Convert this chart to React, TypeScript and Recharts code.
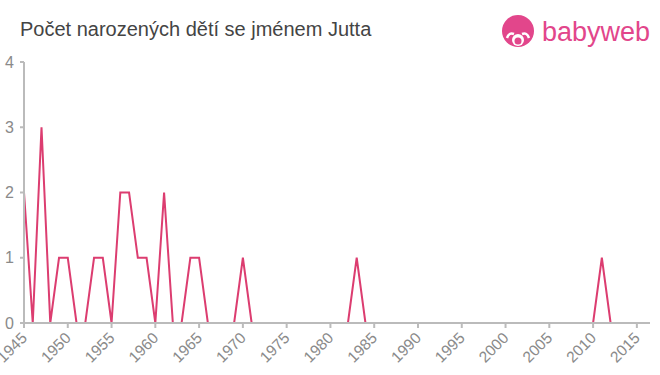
import { LineChart, Line, XAxis, YAxis } from 'recharts';

const YEARS = [
  1945, 1946, 1947, 1948, 1949, 1950, 1951, 1952, 1953, 1954, 1955, 1956,
  1957, 1958, 1959, 1960, 1961, 1962, 1963, 1964, 1965, 1966, 1967, 1968,
  1969, 1970, 1971, 1972, 1973, 1974, 1975, 1976, 1977, 1978, 1979, 1980,
  1981, 1982, 1983, 1984, 1985, 1986, 1987, 1988, 1989, 1990, 1991, 1992,
  1993, 1994, 1995, 1996, 1997, 1998, 1999, 2000, 2001, 2002, 2003, 2004,
  2005, 2006, 2007, 2008, 2009, 2010, 2011, 2012, 2013, 2014, 2015, 2016,
];

const BIRTHS = [
  2, 0, 3, 0, 1, 1, 0, 0, 1, 1, 0, 2,
  2, 1, 1, 0, 2, 0, 0, 1, 1, 0, 0, 0,
  0, 1, 0, 0, 0, 0, 0, 0, 0, 0, 0, 0,
  0, 0, 1, 0, 0, 0, 0, 0, 0, 0, 0, 0,
  0, 0, 0, 0, 0, 0, 0, 0, 0, 0, 0, 0,
  0, 0, 0, 0, 0, 0, 1, 0, 0, 0, 0, 0,
];

const X_TICKS = [1945, 1950, 1955, 1960, 1965, 1970, 1975, 1980, 1985, 1990, 1995, 2000, 2005, 2010, 2015];
const Y_TICKS = [0, 1, 2, 3, 4];

const TITLE = 'Počet narozených dětí se jménem Jutta';

const data = YEARS.map((year, i) => ({ year, births: BIRTHS[i] }));

const FONT = 'Helvetica, Arial, "Liberation Sans", sans-serif';
const AXIS = '#bbbbbb';
const PINK = '#dc3d70';
const LOGO_PINK = '#e2468b';

// rotated year label, baseline end just below-right of the tick
function XTick({ x, y, payload }: any) {
  const ax = x + 4;
  const ay = y + 9;
  return (
    <text
      x={ax}
      y={ay}
      textAnchor="end"
      fill="#8a8a8a"
      fontSize={15.5}
      fontFamily={FONT}
      transform={`rotate(-45 ${ax} ${ay})`}
    >
      {payload.value}
    </text>
  );
}

function Logo() {
  return (
    <div style={{ position: 'absolute', left: 500, top: 15, display: 'flex', alignItems: 'center' }}>
      <svg width={36} height={34} viewBox="0 0 36 34">
        <circle cx={18} cy={16} r={16} fill={LOGO_PINK} />
        <circle cx={18} cy={25} r={6} fill="#fff" />
        <circle cx={18} cy={26} r={3.5} fill={LOGO_PINK} />
        <path d="M7 23 q2 -6 7 -4" stroke="#fff" strokeWidth={2.5} fill="none" />
        <path d="M29 23 q-2 -6 -7 -4" stroke="#fff" strokeWidth={2.5} fill="none" />
      </svg>
      <span style={{ marginLeft: 6, color: LOGO_PINK, fontFamily: FONT, fontSize: 27, lineHeight: '30px' }}>babyweb</span>
    </div>
  );
}

export default function App() {
  return (
    <div style={{ position: 'absolute', left: 0, top: 0, width: 660, height: 375, background: '#fff' }}>
      <div
        style={{
          position: 'absolute',
          left: 20,
          top: 18,
          fontFamily: FONT,
          fontSize: 20,
          color: '#444',
        }}
      >
        {TITLE}
      </div>
      <Logo />
      <LineChart width={660} height={375} data={data} margin={{ top: 62, right: 10, bottom: 0, left: 0 }}>
        <XAxis
          dataKey="year"
          type="number"
          domain={[1945, 2016.5]}
          ticks={X_TICKS}
          interval={0}
          height={52}
          stroke={AXIS}
          strokeWidth={2}
          tickSize={5}
          tick={<XTick />}
        />
        <YAxis
          type="number"
          domain={[0, 4]}
          ticks={Y_TICKS}
          width={24}
          stroke={AXIS}
          strokeWidth={2}
          tickSize={4}
          tickMargin={6}
          tick={{ fill: '#8a8a8a', fontSize: 16, fontFamily: FONT }}
        />
        <Line
          type="linear"
          dataKey="births"
          stroke={PINK}
          strokeWidth={2}
          dot={false}
          isAnimationActive={false}
        />
      </LineChart>
    </div>
  );
}
